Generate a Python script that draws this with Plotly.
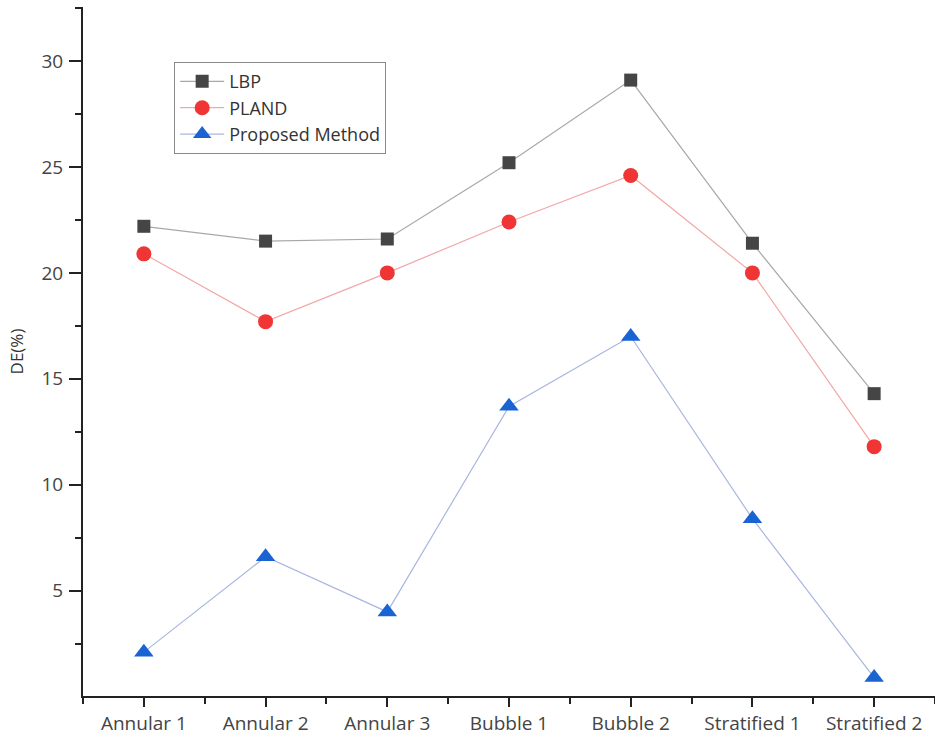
import plotly.graph_objects as go

categories = ["Annular 1", "Annular 2", "Annular 3", "Bubble 1", "Bubble 2", "Stratified 1", "Stratified 2"]
lbp = [22.2, 21.5, 21.6, 25.2, 29.1, 21.4, 14.3]
pland = [20.9, 17.7, 20.0, 22.4, 24.6, 20.0, 11.8]
proposed = [2.1, 6.6, 4.0, 13.7, 17.0, 8.4, 0.9]
y_ticks = [5, 10, 15, 20, 25, 30]

x_pos = list(range(len(categories)))

fig = go.Figure()
fig.add_trace(go.Scatter(
    x=x_pos, y=lbp, name="LBP", mode="lines+markers",
    line=dict(color="#a8a8a8", width=1.2),
    marker=dict(symbol="square", size=13, color="#454545"),
))
fig.add_trace(go.Scatter(
    x=x_pos, y=pland, name="PLAND", mode="lines+markers",
    line=dict(color="#f2a7a7", width=1.2),
    marker=dict(symbol="circle", size=15, color="#f03535"),
))
fig.add_trace(go.Scatter(
    x=x_pos, y=proposed, name="Proposed Method", mode="lines+markers",
    line=dict(color="#a9b6e0", width=1.2),
    marker=dict(symbol="triangle-up", size=17, color="#1a63d2"),
))

family = "Open Sans, DejaVu Sans, sans-serif"
axis_font = dict(family=family, size=19, color="#444444")

fig.update_layout(
    width=935, height=737,
    margin=dict(l=83, r=0, t=7, b=41),
    paper_bgcolor="white", plot_bgcolor="white",
    font=axis_font,
    showlegend=True,
    legend=dict(
        x=0.107, y=0.92, xanchor="left", yanchor="top",
        bgcolor="white", bordercolor="#8a8a8a", borderwidth=1,
        font=dict(family=family, size=18, color="#333333"),
        tracegroupgap=0, itemwidth=44,
    ),
    xaxis=dict(
        range=[-0.5, 6.5],
        tickmode="array", tickvals=x_pos, ticktext=categories,
        showline=True, linecolor="#222222", linewidth=2,
        ticks="outside", ticklen=9, tickwidth=2, tickcolor="#222222",
        minor=dict(dtick=0.5, tick0=-0.5, ticks="outside", ticklen=6, tickwidth=2, tickcolor="#222222"),
        showgrid=False, zeroline=False,
        tickfont=axis_font,
    ),
    yaxis=dict(
        range=[0.03, 32.55],
        tickmode="array", tickvals=y_ticks,
        showline=True, linecolor="#222222", linewidth=2,
        ticks="outside", ticklen=12, tickwidth=2, tickcolor="#222222",
        minor=dict(dtick=2.5, tick0=0, ticks="outside", ticklen=6, tickwidth=2, tickcolor="#222222"),
        showgrid=False, zeroline=False,
        tickfont=axis_font,
        ticklabelstandoff=2,
        title=dict(text="DE(%)", font=dict(family=family, size=17, color="#333333"), standoff=14),
    ),
)

fig.write_html("out.html")
